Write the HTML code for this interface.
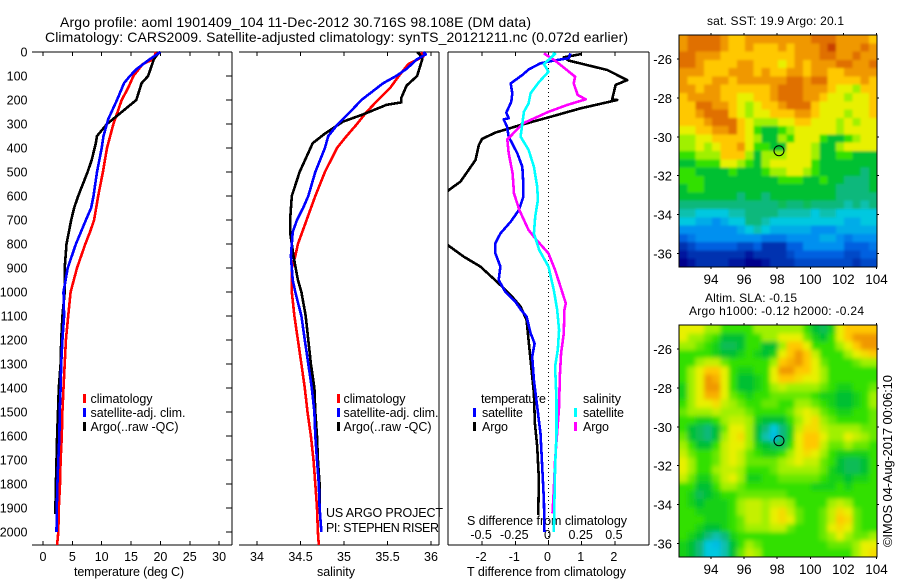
<!DOCTYPE html>
<html lang="en">
<head>
<meta charset="utf-8">
<title>Argo profile 1901409_104</title>
<style>
html,body{margin:0;padding:0;background:#fff;width:900px;height:580px;overflow:hidden}
svg{display:block;font-family:"Liberation Sans",sans-serif;font-size:12.5px;fill:#000}
text{fill:#000}
</style>
</head>
<body>
<svg id="chart" width="900" height="580" viewBox="0 0 900 580" xmlns="http://www.w3.org/2000/svg">
<defs>
<clipPath id="diff-clip"><rect x="448" y="52" width="201" height="493"></rect></clipPath>
<clipPath id="sst-map-clip"><rect x="679" y="35" width="198" height="232"></rect></clipPath>
<clipPath id="sla-map-clip"><rect x="679" y="325" width="198" height="232"></rect></clipPath>
<filter id="sst-map-soften" filterUnits="userSpaceOnUse" x="640" y="0" width="260" height="300"><feGaussianBlur stdDeviation="1.2"></feGaussianBlur></filter>
<filter id="sla-map-soften" filterUnits="userSpaceOnUse" x="640" y="290" width="260" height="290"><feGaussianBlur stdDeviation="2.3"></feGaussianBlur></filter>
</defs>
<text x="60" y="27" font-size="14" textLength="471" lengthAdjust="spacing">Argo profile: aoml 1901409_104 11-Dec-2012 30.716S 98.108E (DM data)</text>
<text x="45" y="42" font-size="14" textLength="583" lengthAdjust="spacing">Climatology: CARS2009. Satellite-adjusted climatology: synTS_20121211.nc (0.072d earlier)</text>
<text x="74" y="576" textLength="110" lengthAdjust="spacing">temperature (deg C)</text>
<text x="317" y="576" textLength="38" lengthAdjust="spacing">salinity</text>
<text x="467" y="576" textLength="159" lengthAdjust="spacing">T difference from climatology</text>
<text x="467" y="525" textLength="160" lengthAdjust="spacing">S difference from climatology</text>
<text x="326" y="517" textLength="117" lengthAdjust="spacing">US ARGO PROJECT</text>
<text x="326" y="532" textLength="113" lengthAdjust="spacing">PI: STEPHEN RISER</text>
<text x="707" y="25" font-size="12" textLength="137" lengthAdjust="spacing">sat. SST: 19.9 Argo: 20.1</text>
<text x="705" y="302" font-size="12" textLength="92" lengthAdjust="spacing">Altim. SLA: -0.15</text>
<text x="689" y="315" font-size="12" textLength="175" lengthAdjust="spacing">Argo h1000: -0.12 h2000: -0.24</text>
<text transform="translate(892,547) rotate(-90)" font-size="13" textLength="172" lengthAdjust="spacing">©IMOS 04-Aug-2017 00:06:10</text>
<g>
<rect x="83" y="394" width="3" height="9" fill="#f00"></rect><text x="90.5" y="403" textLength="62" lengthAdjust="spacing">climatology</text>
<rect x="83" y="408" width="3" height="9" fill="#00f"></rect><text x="90.5" y="417" textLength="95" lengthAdjust="spacing">satellite-adj. clim.</text>
<rect x="83" y="422" width="3" height="9" fill="#000"></rect><text x="90.5" y="431" textLength="88" lengthAdjust="spacing">Argo(..raw -QC)</text>
</g>
<g>
<rect x="337" y="394" width="3" height="9" fill="#f00"></rect><text x="343.5" y="403" textLength="62" lengthAdjust="spacing">climatology</text>
<rect x="337" y="408" width="3" height="9" fill="#00f"></rect><text x="343.5" y="417" textLength="95" lengthAdjust="spacing">satellite-adj. clim.</text>
<rect x="337" y="422" width="3" height="9" fill="#000"></rect><text x="343.5" y="431" textLength="88" lengthAdjust="spacing">Argo(..raw -QC)</text>
</g>
<g>
<text x="481" y="403" textLength="65" lengthAdjust="spacing">temperature</text>
<rect x="473" y="408" width="3" height="9" fill="#00f"></rect><text x="482" y="417" textLength="41" lengthAdjust="spacing">satellite</text>
<rect x="473" y="422" width="3" height="9" fill="#000"></rect><text x="482" y="431" textLength="26" lengthAdjust="spacing">Argo</text>
<text x="583" y="403" textLength="38" lengthAdjust="spacing">salinity</text>
<rect x="574" y="408" width="3" height="9" fill="#0ff"></rect><text x="583" y="417" textLength="41" lengthAdjust="spacing">satellite</text>
<rect x="574" y="422" width="3" height="9" fill="#f0f"></rect><text x="583" y="431" textLength="26" lengthAdjust="spacing">Argo</text>
</g>
</svg>
<script>
// Depth ticks
const depthTicks = [0,100,200,300,400,500,600,700,800,900,1000,1100,1200,1300,1400,1500,1600,1700,1800,1900,2000];
const tempTicks = [0,5,10,15,20,25,30];
const salTicks = [34,34.5,35,35.5,36];
const salTickLabels = ['34','34.5','35','35.5','36'];
const tDiffTicks = [-2,-1,0,1,2];
const sDiffTicks = [-0.5,-0.25,0,0.25,0.5];
const lonTicks = [94,96,98,100,102,104];
const latTicks = [-26,-28,-30,-32,-34,-36];

// Temperature profiles
const tempClimDepth = [0,30,50,100,150,200,300,400,500,600,700,750,800,900,1000,1100,1200,1300,1400,1500,1600,1700,1800,1900,2000,2054];
const tempClim = [19.25,18.8,17,15.4,14.5,13.4,12,10.9,10.2,9.4,8.7,8,7.2,5.8,4.7,4.3,3.9,3.7,3.5,3.3,3.2,3.0,2.9,2.7,2.6,2.4];
const tempSatDepth = [0,30,70,100,130,200,280,350,400,500,600,650,700,800,900,1000,1100,1200,1300,1400,1500,1600,1700,1800,1900,2000];
const tempSat = [20,18.2,16,14.8,13.8,12.6,11.1,10.3,10,9.2,8.6,8.2,7.3,5.6,4.2,3.5,3.6,3.3,3.1,3.0,2.85,2.8,2.6,2.45,2.35,2.3];
const tempArgoDepth = [0,30,100,130,200,250,300,350,380,450,500,600,650,700,800,900,1000,1100,1200,1300,1400,1500,1600,1700,1800,1925];
const tempArgo = [19.8,18.9,17.9,16.8,15.9,13.4,10.9,9.2,9,8.3,7.6,6,5.3,4.8,4,3.7,3.7,3.3,3.1,3,2.7,2.55,2.4,2.3,2.2,2.1];

// Salinity profiles
const salClimDepth = [0,20,50,100,150,200,250,300,350,400,500,600,700,800,850,900,1000,1100,1200,1300,1400,1500,1600,1700,1800,1900,2000,2054];
const salClim = [35.89,35.91,35.74,35.63,35.53,35.39,35.26,35.15,35.03,34.92,34.78,34.67,34.57,34.47,34.44,34.40,34.40,34.43,34.47,34.51,34.55,34.58,34.62,34.65,34.67,34.69,34.70,34.71];
const salSatDepth = [0,10,30,70,100,130,200,250,300,350,400,500,600,650,700,750,850,950,1000,1100,1200,1300,1400,1500,1600,1700,1800,1900,2000];
const salSat = [35.91,35.94,35.84,35.72,35.6,35.45,35.2,35.07,34.93,34.82,34.78,34.67,34.59,34.53,34.46,34.41,34.39,34.41,34.44,34.51,34.55,34.59,34.63,34.66,34.67,34.69,34.71,34.72,34.74];
const salArgoDepth = [0,10,30,100,140,190,210,220,260,290,340,380,500,600,700,750,850,950,1000,1100,1200,1300,1400,1500,1600,1700,1800,1900];
const salArgo = [35.84,35.87,35.9,35.84,35.72,35.66,35.66,35.49,35.22,34.99,34.78,34.64,34.49,34.4,34.38,34.38,34.42,34.47,34.51,34.56,34.59,34.62,34.66,34.67,34.69,34.7,34.72,34.72];

// Difference profiles
const dTArgoDepth = [8,22,36,75,117,137,197,200,235,272,304,336,362,388,450,540,575,700,808,853,894,964,1013,1061,1117,1214,1311,1422,1547,1644,1783,1929];
const dTArgo = [1.01,0.46,0.61,1.77,2.37,2.02,1.92,2.07,0.96,0.01,-0.84,-1.6,-2.0,-2.1,-2.2,-2.65,-3.0,-3.9,-3.0,-2.55,-2.05,-1.5,-1.14,-0.84,-0.66,-0.59,-0.52,-0.44,-0.41,-0.34,-0.29,-0.31];
const dTSatDepth = [6,26,36,47,72,96,131,172,207,253,276,281,311,353,422,478,547,603,658,707,756,797,839,894,950,999,1040,1072,1103,1172,1214,1269,1367,1478,1589,1728,1867,2000];
const dTSat = [0.66,0.61,0.16,-0.24,-0.59,-0.79,-1.14,-1.09,-1.12,-1.27,-1.2,-1.35,-1.25,-1.2,-0.94,-0.79,-0.76,-0.76,-0.89,-1.14,-1.45,-1.6,-1.6,-1.45,-1.5,-1.3,-1.0,-0.84,-0.66,-0.54,-0.42,-0.49,-0.44,-0.34,-0.24,-0.19,-0.14,-0.12];
const dSArgoDepth = [6,36,103,131,179,197,221,249,297,364,422,506,589,658,742,783,839,908,978,1047,1075,1172,1255,1353,1478,1589,1700,1825,1922];
const dSArgo = [-0.035,0.05,0.2,0.19,0.22,0.28,0.14,0,-0.19,-0.31,-0.3,-0.27,-0.26,-0.22,-0.15,-0.09,0,0.05,0.09,0.13,0.12,0.115,0.095,0.085,0.08,0.065,0.05,0.04,0.03];
const dSSatDepth = [6,8,50,82,124,172,214,249,353,408,478,561,617,686,756,825,894,992,1072,1158,1241,1311,1450,1589,1728,2000];
const dSSat = [0.03,0.05,-0.035,0,-0.07,-0.135,-0.15,-0.185,-0.21,-0.15,-0.11,-0.085,-0.08,-0.1,-0.11,-0.07,0,0.04,0.065,0.08,0.07,0.05,0.06,0.06,0.05,0.04];

// Float position
const floatLon = 98.108;
const floatLat = -30.716;

// Map cell values, north to south, as colour-scale levels
const sstGrid = [
[11,12,12,12,12,11,10,10,11,11,11,11,11,11,11,11,12,12,12,11,11,11,11,10],
[11,12,12,12,12,11,10,10,11,10,10,10,11,10,11,11,11,12,13,11,11,11,12,11],
[12,12,11,11,11,10,10,10,10,10,10,10,10,10,11,11,11,12,12,11,11,12,11,11],
[12,12,11,10,10,10,10,11,11,10,10,10,9,10,11,10,11,11,11,12,12,11,11,12],
[11,11,11,10,10,10,11,11,11,10,11,10,10,11,11,10,11,11,10,10,11,11,11,11],
[11,10,10,10,11,11,10,11,11,11,11,11,11,12,12,11,12,12,10,10,10,10,11,10],
[11,11,10,11,11,10,10,10,10,10,10,11,12,12,12,11,11,11,10,9,9,8,10,10],
[10,11,11,11,11,10,10,9,9,10,10,11,12,12,12,11,11,10,9,9,8,9,9,10],
[10,10,12,12,11,11,10,9,8,9,10,10,11,12,12,12,10,9,9,9,9,9,9,10],
[10,10,11,12,12,12,10,9,8,9,9,10,10,10,11,11,10,9,9,9,8,9,9,10],
[10,10,10,11,12,12,12,10,9,8,8,8,9,9,10,10,9,9,9,8,9,8,9,9],
[9,9,10,10,11,11,12,10,9,7,6,6,7,8,9,9,9,9,9,8,9,9,9,9],
[8,8,9,9,10,10,10,10,9,8,6,6,8,7,9,9,9,7,6,6,7,8,9,9],
[8,8,9,8,9,10,10,11,9,7,7,6,6,9,9,9,8,6,6,8,9,9,9,9],
[7,7,8,8,8,10,10,10,8,6,8,8,8,9,9,9,8,6,6,7,7,6,6,6],
[6,6,7,7,7,9,9,8,7,6,8,9,9,9,9,9,7,6,6,6,6,6,6,6],
[7,7,6,6,6,6,7,6,6,6,7,8,8,9,9,8,7,6,6,6,6,6,5,6],
[7,7,7,6,6,6,6,6,6,6,6,6,7,7,7,6,6,7,6,6,5,5,5,6],
[6,7,7,6,6,6,6,6,6,6,6,6,6,6,6,6,6,6,6,5,5,5,5,6],
[6,6,6,6,6,6,6,5,6,6,5,6,6,6,6,6,6,6,6,5,5,5,5,5],
[5,5,5,5,5,5,5,5,5,5,5,5,5.5,5,5,5.5,5,5,5,5,4.5,5,4.5,5],
[4.5,4.5,4,4,4,4,4.5,4.5,5,5,5,5,4.5,4.5,4.5,4.5,4,4.5,4.5,4,4,4,4,4],
[4,4,3.5,3.5,3,3.5,4,4,5,5,4.5,4,4,4,4,4,4,4,4,4,3.5,3.5,4,4],
[3,3,3,3,3,3,3,3.5,4,4.5,4,3.5,3.5,3.5,3.5,3.5,3,3,3,3.5,3.5,3.5,3.5,3.5],
[2,2.5,3,3,3,3,3,3,3,3,2.5,2.5,2.5,3,3,3,3,3.5,3.5,3,2.5,3,3,3],
[1,1.5,2,2,2,2,2,1.5,1.5,2,1,1,1,2,2,3,3,3,3,3,2,2,2,2.5],
[0.5,1,1,1,1,1,1,1,0.5,1,1,1,1,1.5,2,2,2,2,2,2,1.5,1.5,2,2],
[0,0.5,1,1,1,1,0.5,0.5,0,0,0.5,1,1,1,1.5,1.5,1.5,1.5,1.5,1.5,1.5,1,1.5,1.5]
];
const slaGrid = [
[9,9,9,8,8,7,7,7,7,8,8,8,8,8,8,7,6,5.5,6.5,9,10,10,10,10],
[9,8,8,7.5,7,6,6,6,7,7,8,8,9,9,9,7.5,6.5,6,7,9,10,11,11,11],
[8,8,7.5,7,6.5,5.5,5.5,6,7,7,6,6,8,10,10,9,7,7,7,8,9,10,11,11],
[7,7,7,7,6.5,6,6,6.5,7,6.5,6,6.5,9,10,11,10,8.5,7,7,7,8,9,9.5,10],
[7,7,8,8.5,8.5,7.5,7,7,7,7,7,8,10,10.5,11,10,9,7.5,7,7,7,7.5,8,8],
[7,8,9,10,10,9,7,6.5,6.5,7,7,9,11,11,10,10,9,8,7,7,7,7,7,7],
[7,8,9,11,10.5,9,7,6,6,6.5,7,9,10,10,9.5,9,9,8,7,7,7,7,7,7],
[6.5,8,9,11,11,9,7,6,6,6.5,7,8,8.5,8,8,8,8,7.5,7,6.5,6.5,7,7,7.5],
[6.5,8,9,10.5,10.5,9,7.5,7,6.5,7,7,7.5,7.5,7.5,7.5,7.5,7,6.5,6.5,6,6,6.5,7,8],
[7,8,9,9,9.5,8.5,8,7.5,7,7,7.5,7.5,7,7,8,8,7.5,7,6.5,6,6,6.5,7,8],
[7.5,8,8,8,8.5,8,8,8,7.5,7,7,7,7,7.5,8.5,9,8.5,7.5,7,6.5,6.5,7,7,7.5],
[7,7,6.5,6.5,7,8,8.5,8.5,8,6.5,6,6,6,7,8,9,9.5,8,7.5,7,7,7,7,7.5],
[7,6,5.5,5,6,7.5,9,9,8,6,5,4,5,6.5,8.5,9.5,9.5,8.5,8,8,8,8,7.5,7.5],
[7.5,6,5.5,5,6,8,9,9.5,8,6,4.5,3.8,5,6.5,9,10,10,9,8,8,9,8.5,8,7.5],
[8,7,6,6,7,8.5,9,9,8,6.5,6,5.5,5.5,7,9,10,10,8.5,7.5,7.5,8,7.5,7.5,7],
[8.5,7.5,7,7,7.5,8.5,9,8.5,7.5,7,6.5,6.5,7,8,9,9.5,9,8,7,6.5,6.5,6.5,6.5,7],
[9,8,7,7,7.5,8.5,9,8.5,7.5,7.5,7.5,7.5,8,8.5,9,8.5,8.5,7.5,7,6,5.5,5.5,6,7],
[9,8,7,7,8,8.5,8.5,8,7,7,7,7.5,8,8,8,8,8,7.5,6.5,6,5.5,5.5,6,7],
[8.5,7.5,6.5,6.5,7.5,8.5,9,8,6.5,6.5,7,7,7.5,7.5,7.5,7.5,7.5,7,6.5,6.5,6,6.5,6.5,7],
[7,7,6,6,7,8,8,7.5,7,7,7,7,7,7,7,7,6.5,6.5,6.5,7,6.5,7,7,7],
[7,6.5,5.5,6,6.5,7,7,7.5,7.5,7.5,7.5,7.5,7.5,7,7,7,7,7,7,7,7,7,7,7],
[7,6.5,6,6.5,6.5,6.5,7,8,8.5,8.5,8,8.5,8.5,8,7,7,7,7,8,8.5,8,7,7,7],
[7,7,6.5,6.5,6.5,6.5,7,8,8.5,8.5,8,9,9.5,8.5,7.5,7,7,7.5,8.5,9.5,9,7.5,7,7],
[7,7,7,6.5,6.5,6.5,7,7.5,8.5,8.5,8,9,9.5,9,7.5,7,7,7.5,8.5,10,9.5,7.5,7,7],
[7,7,6.5,6,6,6.5,7,7.5,8,8,8,8.5,8.5,7.5,7,7,7,7.5,9,9.5,9,7.5,7,7],
[7,6.5,6,5,4.5,5,6.5,7,7,7,7,7,7,7,7,7,7,7.5,8,9,8,7.5,7.5,8],
[6.5,6,5,4,3.8,4.5,6,7,8,7.5,7,7,7,7,7,7,7,7,7.5,7.5,7.5,8,9,9],
[6.5,6,5,4,4,4.5,6,7.5,8.5,8,7,7,7,7,7,7,7,7,7,7,7,8,9,9.5]
];

const svg = document.getElementById('chart');
const NS = 'http://www.w3.org/2000/svg';
const colourStops = [[0,0,140],[0,48,176],[0,96,224],[0,144,240],[0,200,224],[16,184,124],[0,192,48],[48,224,0],[160,240,0],[232,240,0],[255,200,0],[240,152,0],[224,112,0],[200,64,0]];

function make(tag, attrs, parent) {
  const node = document.createElementNS(NS, tag);
  for (const key in attrs) node.setAttribute(key, attrs[key]);
  (parent || svg).appendChild(node);
  return node;
}
function group(parent) { return make('g', {}, parent); }
function levelColour(v) {
  const c = Math.max(0, Math.min(colourStops.length - 1, v));
  const i = Math.min(colourStops.length - 2, Math.floor(c));
  const f = c - i;
  const a = colourStops[i], b = colourStops[i + 1];
  return 'rgb(' + [0, 1, 2].map(k => Math.round(a[k] + (b[k] - a[k]) * f)).join(',') + ')';
}

const yDepth = d => 52 + 0.24 * d;
const xTemp = t => 43 + 5.87 * t;
const xSal = s => 257 + 87 * (s - 34);
const xDT = t => 548.5 + 33.2 * t;
const xDS = s => 548.5 + 132.8 * s;
const PLOT_TOP = 52, PLOT_BOTTOM = 545;

function axisLine(x1, y1, x2, y2, parent) {
  return make('line', {x1: x1, y1: y1, x2: x2, y2: y2, stroke: '#000', 'stroke-width': 1, 'shape-rendering': 'crispEdges'}, parent);
}
function label(x, y, str, anchor, size, parent) {
  const t = make('text', {x: x, y: y, 'text-anchor': anchor || 'middle'}, parent);
  if (size) t.setAttribute('font-size', size);
  t.textContent = str;
  return t;
}
function series(xs, depths, scale, colour, name, clip) {
  const pts = xs.map((v, i) => scale(v).toFixed(1) + ',' + yDepth(depths[i]).toFixed(1)).join(' ');
  const line = make('polyline', {points: pts, fill: 'none', stroke: colour, 'stroke-width': 2.6, 'stroke-linejoin': 'round', 'shape-rendering': 'crispEdges'});
  if (clip) line.setAttribute('clip-path', 'url(#diff-clip)');
  
  
}

/* Temperature panel frame */
const tempAxis = group();


axisLine(32, PLOT_TOP, 232, PLOT_TOP, tempAxis);
axisLine(32, PLOT_BOTTOM, 232, PLOT_BOTTOM, tempAxis);
axisLine(232, PLOT_TOP, 232, PLOT_BOTTOM, tempAxis);
tempTicks.forEach(t => {
  axisLine(xTemp(t), PLOT_TOP, xTemp(t), PLOT_TOP + 4, tempAxis);
  axisLine(xTemp(t), PLOT_BOTTOM - 4, xTemp(t), PLOT_BOTTOM, tempAxis);
  label(xTemp(t), 561, String(t), 'middle', null, tempAxis);
});
depthTicks.forEach(d => {
  axisLine(226, yDepth(d), 232, yDepth(d), tempAxis);
  label(27.5, yDepth(d) + 4.5, String(d), 'end', null, tempAxis);
});

/* Salinity panel frame */
const salAxis = group();


axisLine(239, PLOT_TOP, 439, PLOT_TOP, salAxis);
axisLine(239, PLOT_BOTTOM, 439, PLOT_BOTTOM, salAxis);
axisLine(439, PLOT_TOP, 439, PLOT_BOTTOM, salAxis);
salTicks.forEach((s, i) => {
  axisLine(xSal(s), PLOT_TOP, xSal(s), PLOT_TOP + 4, salAxis);
  axisLine(xSal(s), PLOT_BOTTOM - 4, xSal(s), PLOT_BOTTOM, salAxis);
  label(xSal(s), 561, salTickLabels[i], 'middle', null, salAxis);
});

/* Difference panel frame */
const diffAxis = group();


axisLine(448, PLOT_TOP, 649, PLOT_TOP, diffAxis);
axisLine(448, PLOT_BOTTOM, 649, PLOT_BOTTOM, diffAxis);
axisLine(448, PLOT_TOP, 448, PLOT_BOTTOM, diffAxis);
axisLine(649, PLOT_TOP, 649, PLOT_BOTTOM, diffAxis);
tDiffTicks.forEach(t => {
  axisLine(xDT(t), PLOT_TOP, xDT(t), PLOT_TOP + 4, diffAxis);
  axisLine(xDT(t), PLOT_BOTTOM - 4, xDT(t), PLOT_BOTTOM, diffAxis);
  label(xDT(t) - 1, 561, String(t), 'middle', null, diffAxis);
});
sDiffTicks.forEach(s => {
  label(xDS(s) - 1, 539, String(s), 'middle', null, diffAxis);
});
const zeroLine = make('line', {x1: xDT(0), y1: PLOT_TOP, x2: xDT(0), y2: PLOT_BOTTOM, stroke: '#000', 'stroke-width': 1, 'stroke-dasharray': '1 3', 'shape-rendering': 'crispEdges'});



/* Profiles */
series(tempClim, tempClimDepth, xTemp, '#f00', 'temperature-climatology-line');
series(tempArgo, tempArgoDepth, xTemp, '#000', 'temperature-argo-line');
series(tempSat, tempSatDepth, xTemp, '#00f', 'temperature-satellite-line');
series(salClim, salClimDepth, xSal, '#f00', 'salinity-climatology-line');
series(salArgo, salArgoDepth, xSal, '#000', 'salinity-argo-line');
series(salSat, salSatDepth, xSal, '#00f', 'salinity-satellite-line');
series(dTArgo, dTArgoDepth, xDT, '#000', 'temperature-difference-argo-line', true);
series(dTSat, dTSatDepth, xDT, '#00f', 'temperature-difference-satellite-line', true);
series(dSArgo, dSArgoDepth, xDS, '#f0f', 'salinity-difference-argo-line', true);
series(dSSat, dSSatDepth, xDS, '#0ff', 'salinity-difference-satellite-line', true);

/* Maps */
function drawMap(grid, top, lat26y, mapName, clipId, softenId) {
  const left = 679, right = 877, bottom = top + 232;
  const xLon = lon => 711 + (lon - 94) * 16.55;
  const yLat = lat => lat26y + (-26 - lat) * 19.45;
  const m = group();
  
  
  const clipLayer = make('g', {'clip-path': 'url(#' + clipId + ')'}, m);
  const cells = make('g', {filter: 'url(#' + softenId + ')'}, clipLayer);
  const cw = (right - left) / grid[0].length;
  const ch = (bottom - top) / grid.length;
  const pad = 14;
  grid.forEach((row, r) => row.forEach((v, c) => {
    const padL = c === 0 ? pad : 0, padR = c === row.length - 1 ? pad : 0;
    const padT = r === 0 ? pad : 0, padB = r === grid.length - 1 ? pad : 0;
    const cell = make('rect', {x: left + c * cw - padL, y: top + r * ch - padT, width: cw + 0.5 + padL + padR, height: ch + 0.5 + padT + padB, fill: levelColour(v), 'shape-rendering': 'crispEdges'}, cells);
    
    
  }));
  make('rect', {x: left, y: top, width: right - left, height: bottom - top, fill: 'none', stroke: '#000', 'stroke-width': 1, 'shape-rendering': 'crispEdges'}, m);
  lonTicks.forEach(lon => {
    axisLine(xLon(lon), top - 2, xLon(lon), top, m);
    axisLine(xLon(lon), bottom, xLon(lon), bottom + 2, m);
    label(xLon(lon), bottom + 17, String(lon), 'middle', 13.5, m);
  });
  latTicks.forEach(lat => {
    axisLine(left - 2, yLat(lat), left, yLat(lat), m);
    axisLine(right, yLat(lat), right + 2, yLat(lat), m);
    label(672, yLat(lat) + 5, String(lat), 'end', 13, m);
  });
  const marker = make('circle', {cx: xLon(floatLon), cy: yLat(floatLat), r: 5, fill: 'none', stroke: '#000', 'stroke-width': 1}, m);
  
  
}
drawMap(sstGrid, 35, 59, 'sst-map', 'sst-map-clip', 'sst-map-soften');
drawMap(slaGrid, 325, 349, 'sla-map', 'sla-map-clip', 'sla-map-soften');
</script>
</body>
</html>
